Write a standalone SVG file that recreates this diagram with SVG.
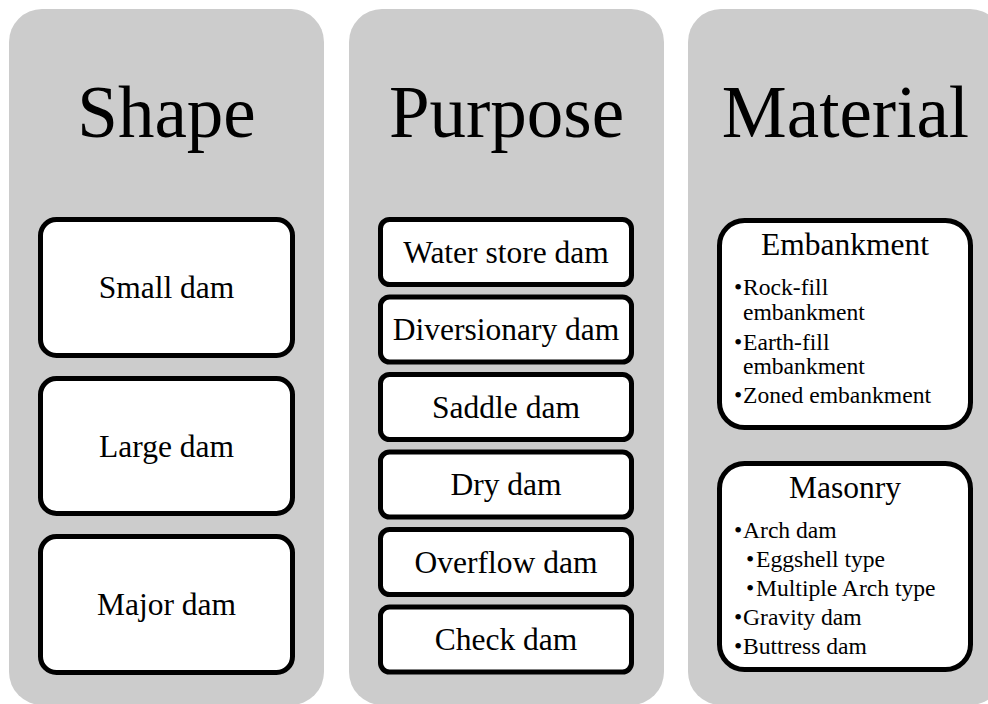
<svg xmlns="http://www.w3.org/2000/svg" width="988" height="704" viewBox="0 0 988 704">
<style>
.col{fill:#cccccc}
.box{fill:#ffffff;stroke:#000000;stroke-width:5}
text{font-family:'Liberation Serif',serif;fill:#000000}
.h{font-size:73px;text-anchor:middle}
.l{font-size:31.5px;text-anchor:middle}
.b{font-size:23.6px}
</style>
<g id="col-shape">
<rect class="col" x="9" y="9" width="315" height="696" rx="33"/>
<text class="h" x="166.5" y="137">Shape</text>
</g>
<g id="col-purpose">
<rect class="col" x="349" y="9" width="315" height="696" rx="33"/>
<text class="h" x="506.5" y="137">Purpose</text>
</g>
<g id="col-material">
<rect class="col" x="688" y="9" width="315" height="696" rx="33"/>
<text class="h" x="845.5" y="137">Material</text>
</g>
<g id="small-dam"><rect class="box" x="40.5" y="219.5" width="252" height="136" rx="16"/><text class="l" x="166.5" y="297.5">Small dam</text></g>
<g id="large-dam"><rect class="box" x="40.5" y="378.5" width="252" height="135" rx="16"/><text class="l" x="166.5" y="456.5">Large dam</text></g>
<g id="major-dam"><rect class="box" x="40.5" y="536.5" width="252" height="136" rx="16"/><text class="l" x="166.5" y="615">Major dam</text></g>
<g id="water-store-dam"><rect class="box" x="380.5" y="219.5" width="251" height="65" rx="9"/><text class="l" x="506" y="262.5">Water store dam</text></g>
<g id="diversionary-dam"><rect class="box" x="380.5" y="297" width="251" height="65" rx="9"/><text class="l" x="506" y="340">Diversionary dam</text></g>
<g id="saddle-dam"><rect class="box" x="380.5" y="374.5" width="251" height="65" rx="9"/><text class="l" x="506" y="417.5">Saddle dam</text></g>
<g id="dry-dam"><rect class="box" x="380.5" y="452" width="251" height="65" rx="9"/><text class="l" x="506" y="495">Dry dam</text></g>
<g id="overflow-dam"><rect class="box" x="380.5" y="529.5" width="251" height="65" rx="9"/><text class="l" x="506" y="572.5">Overflow dam</text></g>
<g id="check-dam"><rect class="box" x="380.5" y="607" width="251" height="65" rx="9"/><text class="l" x="506" y="650">Check dam</text></g>
<g id="embankment">
<rect class="box" x="719.5" y="220.5" width="251" height="207" rx="25"/>
<text class="l" x="845" y="255">Embankment</text>
<text class="b"><tspan x="734" y="295">&#8226;</tspan><tspan x="743" y="295">Rock-fill</tspan><tspan x="743" y="320">embankment</tspan><tspan x="734" y="350">&#8226;</tspan><tspan x="743" y="350">Earth-fill</tspan><tspan x="743" y="374">embankment</tspan><tspan x="734" y="403">&#8226;</tspan><tspan x="743" y="403">Zoned embankment</tspan></text>
</g>
<g id="masonry">
<rect class="box" x="719.5" y="463.5" width="251" height="206" rx="25"/>
<text class="l" x="845" y="498">Masonry</text>
<text class="b"><tspan x="734" y="538">&#8226;</tspan><tspan x="743" y="538">Arch dam</tspan><tspan x="746" y="567">&#8226;</tspan><tspan x="756" y="567">Eggshell type</tspan><tspan x="746" y="596">&#8226;</tspan><tspan x="756" y="596">Multiple Arch type</tspan><tspan x="734" y="625">&#8226;</tspan><tspan x="743" y="625">Gravity dam</tspan><tspan x="734" y="654">&#8226;</tspan><tspan x="743" y="654">Buttress dam</tspan></text>
</g>
<g id="connectors"/>
</svg>
